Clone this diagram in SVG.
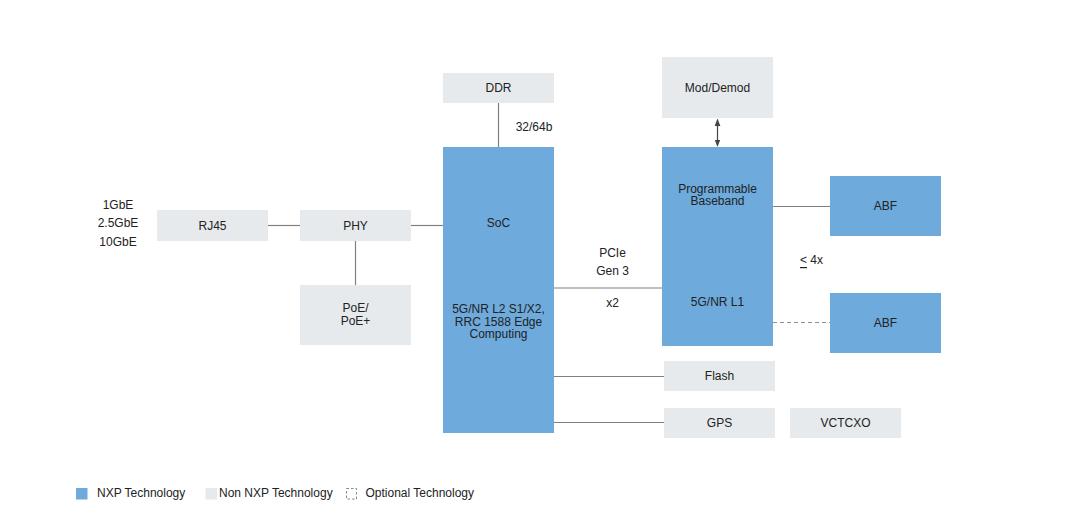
<svg xmlns="http://www.w3.org/2000/svg" width="1080" height="525" viewBox="0 0 1080 525">
<style>
.nxp{fill:#6eaadc}
.non{fill:#e6eaed}
.t{font-family:"Liberation Sans",Arial,sans-serif;font-size:12px;fill:#222;text-anchor:middle;dominant-baseline:central}
.l{font-family:"Liberation Sans",Arial,sans-serif;font-size:12px;fill:#222;dominant-baseline:central}
.c{stroke:#808080;stroke-width:1.2;fill:none}
.d{stroke:#909090;stroke-width:1.2;fill:none;stroke-dasharray:4 3}
</style>
<defs>
<marker id="ah" viewBox="0 0 10 10" refX="9" refY="5" markerWidth="6" markerHeight="6" orient="auto-start-reverse">
<path d="M0,1 L10,5 L0,9 z" fill="#444"/>
</marker>
</defs>
<rect width="1080" height="525" fill="#fff"/>
<g id="connectors">
<line class="c" x1="268" y1="225.5" x2="300" y2="225.5"/>
<line class="c" x1="411" y1="225.5" x2="443" y2="225.5"/>
<line class="c" x1="355.5" y1="241" x2="355.5" y2="285"/>
<line class="c" x1="498.5" y1="103" x2="498.5" y2="147"/>
<line class="c" x1="554" y1="288" x2="662" y2="288"/>
<line class="c" x1="554" y1="376.5" x2="664" y2="376.5"/>
<line class="c" x1="554" y1="422.5" x2="664" y2="422.5"/>
<line class="c" x1="773" y1="206.5" x2="830" y2="206.5"/>
<line class="d" x1="773" y1="322.5" x2="830" y2="322.5"/>
<line stroke="#444" stroke-width="1.2" x1="717.5" y1="119.5" x2="717.5" y2="146" marker-start="url(#ah)" marker-end="url(#ah)"/>
</g>
<g id="labels">
<text class="t" x="118" y="205">1GbE</text>
<text class="t" x="118" y="223">2.5GbE</text>
<text class="t" x="118" y="242">10GbE</text>
<text class="t" x="534" y="127">32/64b</text>
<text class="t" x="612.5" y="253">PCIe</text>
<text class="t" x="612.5" y="271">Gen 3</text>
<text class="t" x="612.5" y="303">x2</text>
<text class="l" x="800" y="260"><tspan text-decoration="underline">&lt;</tspan> 4x</text>
</g>
<g id="rj45"><rect class="non" x="157" y="210" width="111" height="31"/><text class="t" x="212.5" y="225.5">RJ45</text></g>
<g id="phy"><rect class="non" x="300" y="210" width="111" height="31"/><text class="t" x="355.5" y="225.5">PHY</text></g>
<g id="poe"><rect class="non" x="300" y="285" width="111" height="60"/><text class="t" x="355.5" y="308">PoE/</text><text class="t" x="355.5" y="321">PoE+</text></g>
<g id="ddr"><rect class="non" x="443" y="73" width="111" height="30"/><text class="t" x="498.5" y="88">DDR</text></g>
<g id="soc"><rect class="nxp" x="443" y="147" width="111" height="286"/><text class="t" x="498.5" y="223">SoC</text><text class="t" x="498.5" y="309">5G/NR L2 S1/X2,</text><text class="t" x="498.5" y="322">RRC 1588 Edge</text><text class="t" x="498.5" y="334">Computing</text></g>
<g id="moddemod"><rect class="non" x="662" y="57" width="111" height="61"/><text class="t" x="717.5" y="88">Mod/Demod</text></g>
<g id="baseband"><rect class="nxp" x="662" y="147" width="111" height="199"/><text class="t" x="717.5" y="188.5">Programmable</text><text class="t" x="717.5" y="201">Baseband</text><text class="t" x="717.5" y="301.5">5G/NR L1</text></g>
<g id="abf1"><rect class="nxp" x="830" y="176" width="111" height="60"/><text class="t" x="885.5" y="206">ABF</text></g>
<g id="abf2"><rect class="nxp" x="830" y="293" width="111" height="60"/><text class="t" x="885.5" y="322.5">ABF</text></g>
<g id="flash"><rect class="non" x="664" y="361" width="111" height="30"/><text class="t" x="719.5" y="376">Flash</text></g>
<g id="gps"><rect class="non" x="664" y="408" width="111" height="30"/><text class="t" x="719.5" y="422.5">GPS</text></g>
<g id="vctcxo"><rect class="non" x="790" y="408" width="111" height="30"/><text class="t" x="845.5" y="422.5">VCTCXO</text></g>
<g id="legend">
<rect class="nxp" x="76" y="488" width="11.5" height="11.5"/>
<text class="l" x="97" y="493">NXP Technology</text>
<rect class="non" x="205.5" y="488" width="11.5" height="11.5"/>
<text class="l" x="219" y="493">Non NXP Technology</text>
<rect x="346.5" y="488.5" width="10" height="10.5" fill="none" stroke="#888" stroke-width="1" stroke-dasharray="2.5 2"/>
<text class="l" x="365.5" y="493">Optional Technology</text>
</g>
</svg>
